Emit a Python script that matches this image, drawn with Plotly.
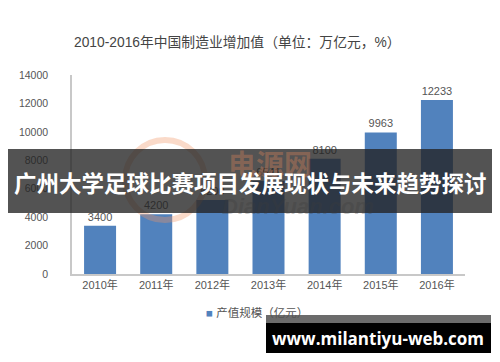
import plotly.graph_objects as go

categories = ["2010年", "2011年", "2012年", "2013年", "2014年", "2015年", "2016年"]
values = [3400, 4200, 5200, 6541, 8100, 9963, 12233]
series_name = "产值规模（亿元）"
title_text = "2010-2016年中国制造业增加值（单位：万亿元，%）"
banner_text = "广州大学足球比赛项目发展现状与未来趋势探讨"
site_text = "www.milantiyu-web.com"

W, H = 500, 362
L, R, T, B = 72, 35, 75, 88
pw, ph = W - L - R, H - T - B

def px(x):
    return (x - L) / pw

def py(y):
    return (H - B - y) / ph

FONT = "Arial, 'Liberation Sans', 'Noto Sans CJK SC', sans-serif"
CJK = "'Noto Sans CJK SC', sans-serif"
BAR_COLOR = "#5182bd"

fig = go.Figure()
fig.add_trace(go.Bar(
    x=categories, y=values, name=series_name,
    marker=dict(color=BAR_COLOR, line=dict(width=0)),
    text=[str(v) for v in values], textposition="outside",
    textfont=dict(size=11, color="#555555", family=FONT),
    cliponaxis=False, showlegend=False,
))

fig.update_layout(
    width=W, height=H,
    margin=dict(l=L, r=R, t=T, b=B),
    paper_bgcolor="white", plot_bgcolor="white",
    bargap=0.43,
    font=dict(family=FONT, size=11, color="#555555"),
    xaxis=dict(showline=True, linecolor="#c8c8c8", linewidth=1.5, ticks="",
               tickfont=dict(size=11, color="#555555", family=FONT), showgrid=False),
    yaxis=dict(range=[0, 14000], dtick=2000, tickformat="d", showline=True, linecolor="#c8c8c8",
               linewidth=1.5, showgrid=False, zeroline=False, ticks="",
               ticklabelstandoff=20,
               tickfont=dict(size=10.5, color="#555555", family=FONT)),
    showlegend=False,
)

shapes = [
    dict(type="circle", xref="paper", yref="paper", layer="above",
         x0=px(125), x1=px(205), y0=py(220), y1=py(140),
         line=dict(color="rgba(240,150,100,0.35)", width=6)),
    dict(type="rect", xref="paper", yref="paper", layer="above",
         x0=px(8), x1=px(492), y0=py(213), y1=py(149),
         fillcolor="rgba(35,35,35,0.78)", line=dict(width=0)),
    dict(type="rect", xref="paper", yref="paper", layer="above",
         x0=px(266), x1=px(491), y0=py(323), y1=py(315),
         fillcolor="#6b6b6b", line=dict(width=0)),
    dict(type="rect", xref="paper", yref="paper", layer="above",
         x0=px(266), x1=px(491), y0=py(353), y1=py(323),
         fillcolor="#000000", line=dict(width=0)),
]
fig.update_layout(shapes=shapes)

annotations = [
    dict(text=title_text, xref="paper", yref="paper", x=px(72), y=py(43),
         xanchor="left", yanchor="middle", showarrow=False,
         font=dict(size=13.8, color="#444444", family=FONT)),
    dict(text="<span style='color:%s'>■</span> %s" % (BAR_COLOR, series_name),
         xref="paper", yref="paper", x=px(257), y=py(312),
         xanchor="center", yanchor="middle", showarrow=False,
         font=dict(size=11.5, color="#555555", family=FONT)),
    dict(text="<b>电源网</b>", xref="paper", yref="paper", x=px(270), y=py(163),
         xanchor="center", yanchor="middle", showarrow=False,
         font=dict(size=28, color="rgba(240,140,90,0.32)", family=CJK)),
    dict(text="<b><i>DianYuan.com</i></b>", xref="paper", yref="paper", x=px(298), y=py(206),
         xanchor="center", yanchor="middle", showarrow=False,
         font=dict(size=22, color="rgba(60,60,60,0.3)", family=FONT)),
    dict(text="<b>" + banner_text + "</b>", xref="paper", yref="paper", x=px(250), y=py(182),
         xanchor="center", yanchor="middle", showarrow=False,
         font=dict(size=22.5, color="white", family=CJK)),
    dict(text="<b>" + site_text + "</b>", xref="paper", yref="paper", x=px(378), y=py(338),
         xanchor="center", yanchor="middle", showarrow=False,
         font=dict(size=17, color="white", family="'Open Sans', sans-serif")),
]
fig.update_layout(annotations=annotations)

fig.write_html("out.html", config={"displayModeBar": False},
               post_script="document.body.style.margin='0';")
